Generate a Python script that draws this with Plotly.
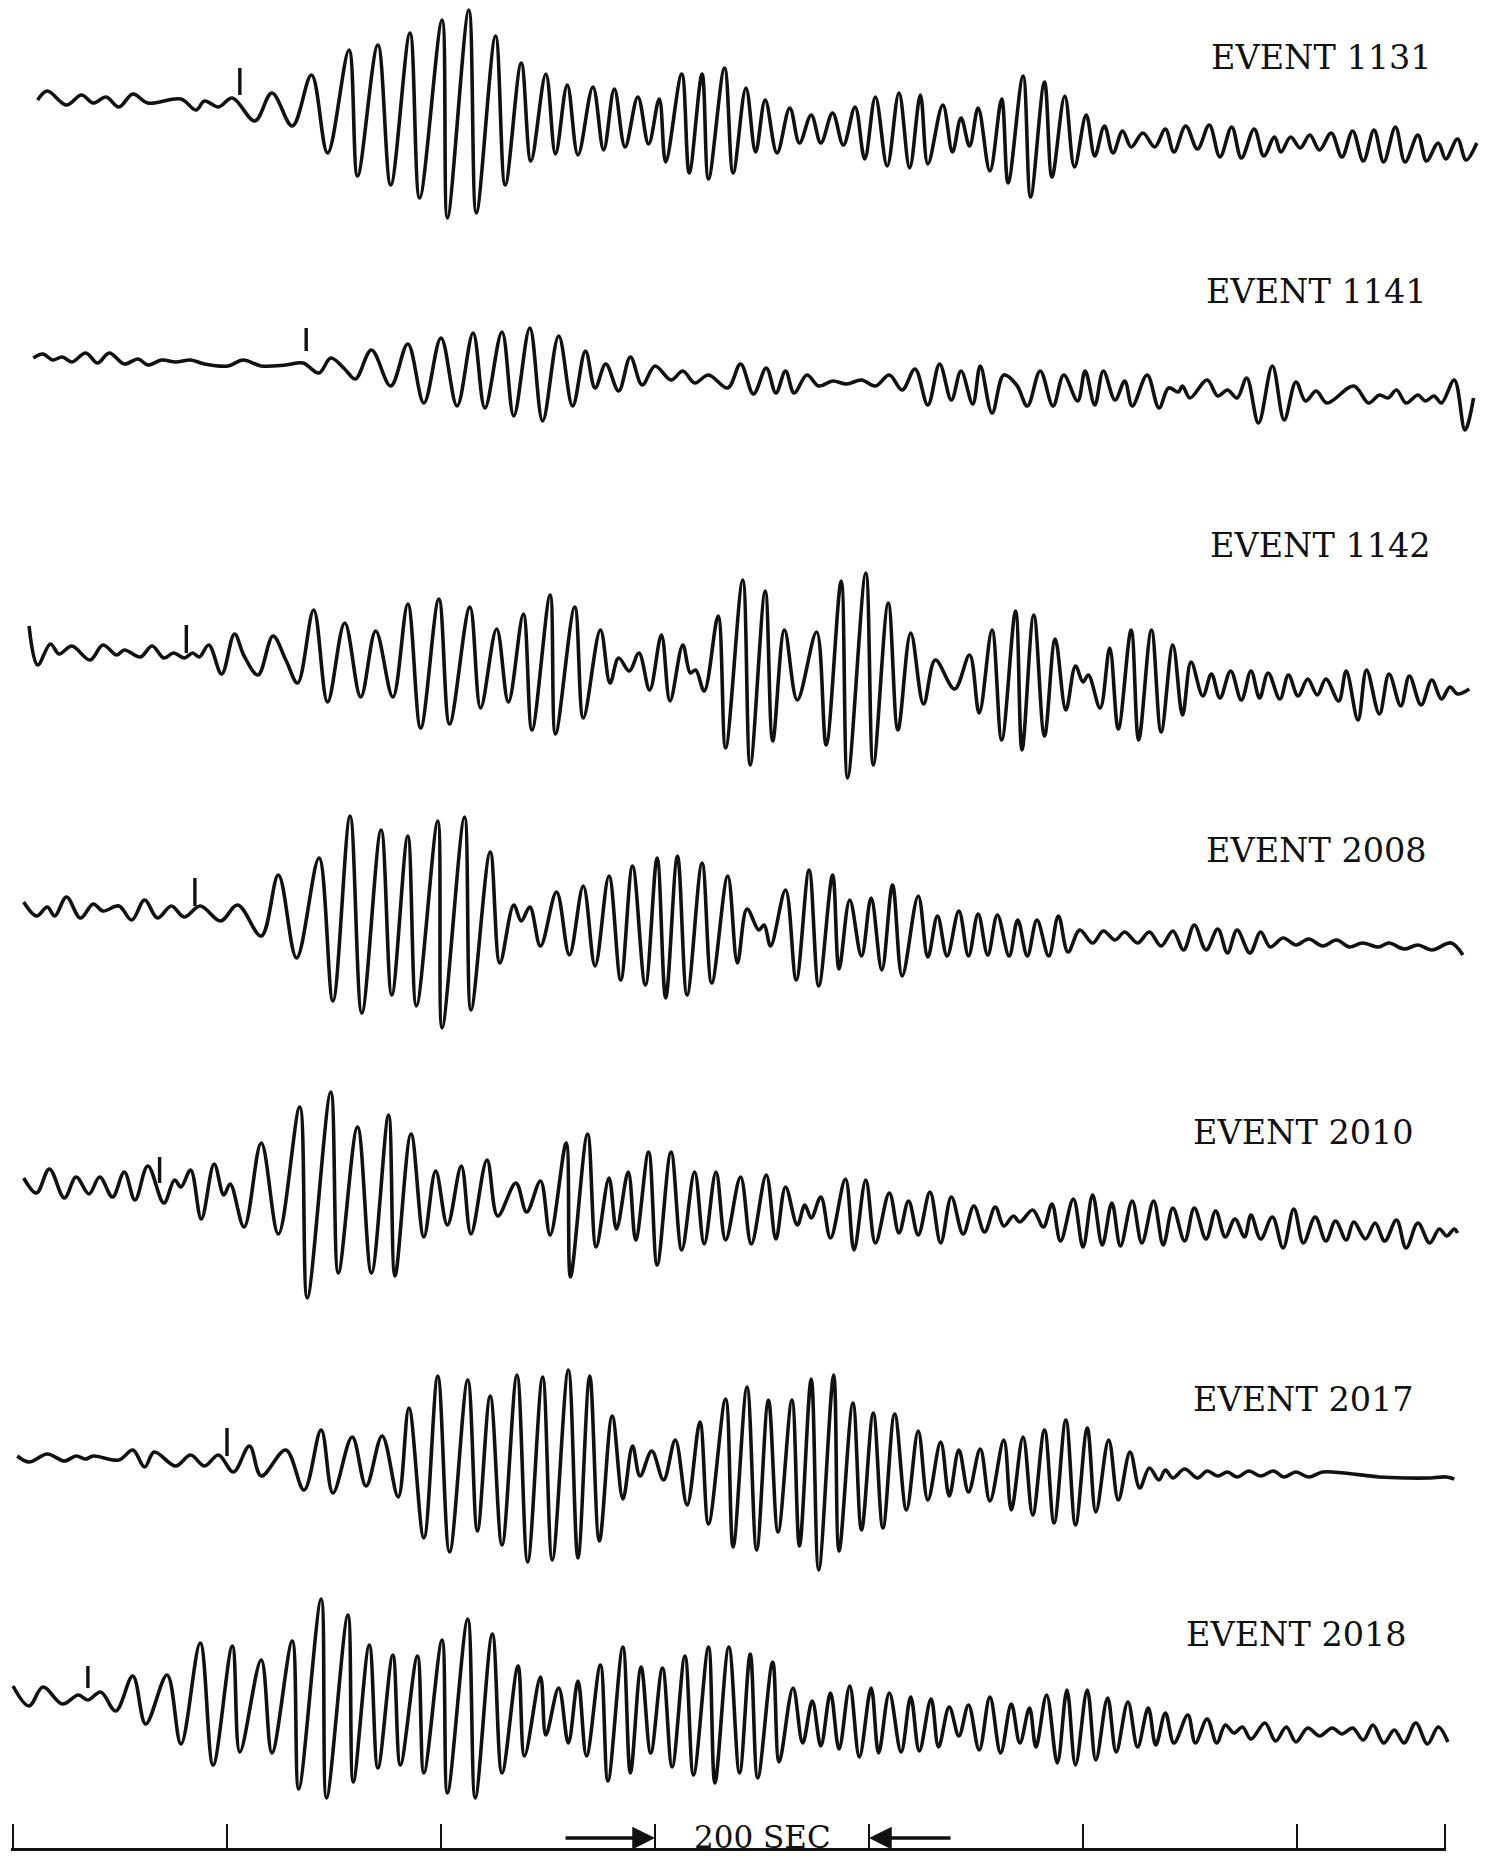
import plotly.graph_objects as go

EVENTS = ["1131", "1141", "1142", "2008", "2010", "2017", "2018"]

# turning points of each trace: (time in s, amplitude)
EV_1131 = [
    (23, 0), (32, 9), (50, -5), (64, 5), (75, -3), (87, 3), (99, -7), (112, 6), (126, -3), (157, 1),
    (171, -10), (179, -1), (192, -7), (205, 2), (226, -21), (242, 7), (261, -26), (279, 25), (294, -53), (314, 50),
    (322, -76), (341, 55), (353, -85), (371, 67), (380, -98), (401, 80), (406, -118), (426, 90), (433, -113), (451, 64),
    (460, -85), (475, 37), (484, -61), (498, 26), (507, -54), (518, 15), (528, -55), (542, 13), (552, -50), (562, 11),
    (572, -47), (584, 3), (594, -44), (604, 1), (610, -62), (625, 26), (632, -73), (644, 26), (650, -79), (665, 32),
    (673, -73), (685, 12), (694, -52), (703, 0), (714, -53), (726, -8), (735, -43), (746, -15), (755, -43), (766, -13),
    (776, -45), (787, -7), (796, -59), (806, 3), (817, -66), (828, 7), (838, -68), (848, 5), (855, -64), (869, -5),
    (878, -52), (886, -18), (894, -46), (902, -8), (913, -71), (924, 1), (930, -83), (944, 24), (951, -97), (964, 18),
    (971, -77), (983, 4), (992, -67), (1003, -15), (1011, -56), (1020, -26), (1028, -53), (1037, -31), (1045, -47),
    (1056, -33), (1067, -47), (1077, -29), (1085, -52), (1096, -26), (1107, -49), (1118, -25), (1128, -57),
    (1139, -27), (1148, -58), (1160, -29), (1169, -56), (1179, -37), (1185, -52), (1194, -37), (1203, -48),
    (1212, -35), (1221, -50), (1232, -33), (1242, -57), (1252, -31), (1262, -61), (1272, -30), (1281, -62),
    (1292, -27), (1301, -62), (1313, -35), (1321, -61), (1332, -43), (1339, -59), (1350, -39), (1358, -60),
    (1368, -43),
]

EV_1141 = [
    (19, -1), (28, 3), (37, -3), (46, 0), (55, -5), (68, 4), (79, -6), (90, 4), (104, -7), (117, -2),
    (126, -8), (139, -3), (152, -5), (166, -3), (179, -7), (201, -9), (215, -3), (232, -9), (255, -8), (271, -6),
    (286, -16), (297, -1), (310, -12), (320, -22), (335, 7), (353, -29), (369, 13), (384, -46), (400, 19), (415, -49),
    (430, 24), (441, -51), (457, 25), (468, -59), (483, 29), (495, -64), (510, 21), (523, -49), (535, 6), (544, -31),
    (554, -7), (566, -34), (577, 0), (588, -28), (600, -9), (615, -23), (626, -14), (637, -26), (650, -18), (668, -31),
    (680, -7), (692, -37), (704, -11), (713, -36), (722, -14), (730, -36), (742, -18), (753, -29), (766, -24),
    (779, -27), (793, -23), (806, -29), (819, -18), (831, -33), (843, -12), (855, -48), (866, -7), (877, -43),
    (886, -14), (897, -47), (904, -9), (915, -56), (926, -18), (938, -28), (948, -49), (960, -14), (972, -49),
    (982, -18), (995, -44), (1002, -14), (1011, -48), (1019, -14), (1030, -43), (1039, -24), (1046, -49),
    (1060, -18), (1071, -51), (1080, -31), (1089, -35), (1093, -29), (1100, -41), (1116, -23), (1126, -39),
    (1135, -33), (1144, -41), (1153, -21), (1164, -66), (1177, -9), (1188, -63), (1199, -25), (1208, -44),
    (1218, -34), (1228, -46), (1253, -29), (1267, -46), (1277, -38), (1285, -41), (1293, -33), (1302, -46),
    (1313, -38), (1320, -44), (1328, -39), (1335, -46), (1347, -23), (1357, -73), (1365, -41),
]

EV_1142 = [
    (15, 27), (23, -12), (35, 9), (43, -1), (55, 7), (72, -7), (84, 8), (97, -2), (104, 3), (119, -4),
    (130, 7), (141, -5), (150, 0), (160, -5), (168, 0), (174, -4), (183, 8), (195, -21), (207, 19), (216, -3),
    (229, -22), (243, 17), (255, -7), (266, -30), (281, 43), (294, -49), (310, 30), (325, -44), (339, 22), (355, -44),
    (369, 49), (381, -75), (398, 54), (408, -71), (427, 46), (437, -55), (452, 24), (463, -49), (477, 39), (485, -77),
    (502, 58), (507, -81), (525, 46), (533, -65), (549, 23), (558, -30), (566, -5), (576, -18), (585, 0), (595, -37),
    (606, 18), (614, -48), (626, 8), (633, -20), (638, -17), (646, -38), (659, 37), (666, -95), (682, 73),
    (689, -112), (703, 62), (710, -88), (721, 23), (733, -47), (751, 21), (760, -92), (774, 72), (780, -125),
    (797, 80), (804, -112), (818, 50), (827, -77), (839, 20), (851, -51), (862, -7), (880, -36), (894, -2),
    (903, -60), (915, 23), (924, -87), (937, 42), (943, -97), (954, 38), (964, -83), (974, 14), (984, -57),
    (993, -13), (1000, -29), (1005, -22), (1016, -55), (1025, 5), (1033, -76), (1045, 23), (1052, -87),
    (1064, 23), (1073, -79), (1084, 8), (1093, -62), (1101, -9), (1112, -43), (1120, -21), (1128, -45),
    (1138, -18), (1148, -47), (1157, -18), (1165, -45), (1173, -20), (1184, -46), (1192, -22), (1201, -43),
    (1210, -26), (1219, -42), (1227, -26), (1239, -48), (1246, -18), (1257, -67), (1265, -17), (1277, -61),
    (1286, -21), (1297, -53), (1305, -23), (1316, -52), (1326, -27), (1335, -46), (1343, -34), (1350, -41),
    (1361, -36),
]

EV_2008 = [
    (10, 6), (22, -8), (32, 1), (39, -8), (50, 11), (63, -10), (75, 4), (84, -3), (99, 2), (111, -12),
    (123, 8), (135, -10), (148, 2), (160, -9), (175, 2), (194, -13), (210, 3), (232, -28), (248, 33), (265, -50),
    (286, 50), (299, -93), (315, 92), (326, -105), (344, 78), (354, -87), (369, 72), (377, -98), (397, 87),
    (401, -120), (422, 91), (428, -102), (446, 56), (455, -55), (468, 3), (475, -13), (483, 1), (493, -38),
    (508, 16), (520, -47), (533, 22), (544, -58), (557, 32), (568, -72), (579, 42), (591, -77), (602, 50),
    (610, -90), (621, 52), (630, -87), (644, 45), (653, -75), (668, 32), (677, -55), (686, -1), (697, -22),
    (702, -17), (708, -38), (722, 18), (732, -72), (744, 38), (753, -78), (766, 33), (772, -61), (782, 8),
    (793, -48), (802, 10), (812, -62), (822, 23), (831, -68), (846, 12), (855, -49), (864, -8), (873, -48),
    (884, -3), (893, -48), (902, -6), (911, -47), (920, -7), (931, -48), (939, -12), (948, -48), (957, -12),
    (968, -48), (977, -8), (986, -44), (997, -22), (1009, -35), (1019, -23), (1030, -32), (1039, -24),
    (1051, -35), (1062, -24), (1073, -38), (1084, -23), (1094, -42), (1104, -17), (1115, -42), (1126, -21),
    (1135, -45), (1144, -22), (1156, -45), (1166, -24), (1175, -39), (1187, -30), (1199, -37), (1211, -31),
    (1224, -38), (1237, -32), (1249, -39), (1261, -35), (1276, -39), (1286, -35), (1300, -41), (1313, -37),
    (1326, -42), (1344, -35), (1355, -47),
]

EV_2010 = [
    (10, 2), (22, -13), (34, 11), (48, -18), (59, 3), (71, -14), (81, 3), (93, -17), (104, 8), (114, -20),
    (126, 14), (141, -23), (151, 0), (157, -7), (166, 10), (176, -39), (188, 16), (197, -15), (203, -4), (216, -47),
    (232, 37), (248, -54), (268, 73), (275, -118), (297, 88), (304, -93), (322, 53), (335, -93), (351, 65),
    (357, -96), (372, 46), (384, -57), (395, 9), (406, -45), (419, 14), (428, -54), (443, 20), (453, -36),
    (470, -3), (480, -32), (493, -1), (502, -55), (517, 37), (521, -97), (537, 46), (545, -67), (557, 2),
    (564, -49), (575, 8), (582, -60), (594, 28), (602, -85), (615, 28), (625, -70), (637, 8), (646, -64),
    (657, 8), (666, -60), (680, 3), (690, -64), (704, 5), (713, -59), (722, -7), (733, -45), (740, -25),
    (746, -38), (755, -17), (764, -58), (778, 1), (786, -70), (797, 0), (806, -63), (819, -13), (828, -53),
    (837, -21), (846, -55), (857, -12), (867, -63), (877, -17), (888, -54), (898, -26), (908, -52), (918, -27),
    (926, -46), (935, -36), (941, -42), (953, -30), (963, -47), (971, -24), (979, -61), (991, -19), (1000, -67),
    (1009, -15), (1018, -65), (1027, -23), (1035, -66), (1046, -21), (1055, -63), (1066, -21), (1075, -65),
    (1084, -28), (1095, -61), (1104, -28), (1115, -59), (1124, -31), (1133, -57), (1142, -39), (1151, -57),
    (1157, -35), (1166, -59), (1177, -37), (1187, -68), (1197, -29), (1206, -63), (1217, -37), (1227, -61),
    (1236, -41), (1246, -60), (1253, -42), (1264, -59), (1273, -43), (1282, -61), (1293, -40), (1302, -68),
    (1313, -43), (1324, -63), (1333, -49), (1340, -56), (1347, -49), (1350, -53),
]

EV_2017 = [
    (4, 2), (15, -4), (32, 4), (48, -3), (59, 2), (68, -1), (75, 2), (99, -2), (112, 8), (123, -9),
    (132, 6), (152, -8), (166, 3), (179, -8), (192, 3), (206, -14), (221, 12), (232, -18), (255, 8), (272, -32),
    (288, 28), (299, -35), (317, 21), (330, -28), (345, 22), (360, -39), (370, 50), (384, -80), (397, 82),
    (408, -94), (425, 78), (434, -73), (446, 62), (457, -87), (471, 83), (481, -104), (495, 81), (504, -102),
    (519, 88), (528, -100), (539, 82), (548, -83), (560, 42), (570, -41), (579, 12), (586, -18), (597, 7),
    (608, -22), (619, 18), (630, -47), (642, 36), (650, -66), (666, 59), (673, -89), (686, 71), (695, -92),
    (706, 58), (715, -74), (728, 58), (735, -88), (746, 79), (753, -112), (767, 83), (772, -93), (785, 55),
    (793, -72), (804, 45), (813, -70), (824, 44), (835, -52), (846, 27), (855, -42), (867, 16), (875, -38),
    (884, 8), (893, -34), (904, 9), (913, -43), (926, 18), (933, -52), (944, 21), (953, -57), (964, 28),
    (973, -65), (984, 38), (993, -67), (1004, 30), (1012, -54), (1024, 18), (1033, -42), (1044, 6), (1053, -30),
    (1062, -10), (1071, -22), (1077, -12), (1084, -20), (1095, -11), (1107, -20), (1116, -13), (1126, -18),
    (1135, -14), (1144, -19), (1155, -13), (1166, -18), (1178, -13), (1188, -19), (1199, -14), (1211, -19),
    (1224, -14), (1244, -15), (1277, -19), (1304, -20), (1322, -20), (1340, -19), (1347, -21),
]

EV_2018 = [
    (0, 4), (15, -16), (28, 3), (46, -14), (61, -5), (70, -10), (82, -2), (96, -21), (112, 14), (124, -34),
    (144, 15), (157, -54), (175, 47), (187, -75), (205, 44), (212, -62), (232, 30), (242, -63), (261, 49),
    (267, -99), (288, 91), (293, -108), (313, 75), (318, -92), (333, 45), (341, -78), (355, 35), (362, -75),
    (378, 34), (384, -83), (401, 50), (406, -103), (425, 71), (432, -108), (448, 56), (457, -83), (472, 24),
    (478, -66), (493, 13), (498, -45), (510, 2), (519, -53), (528, 9), (536, -66), (549, 25), (556, -91),
    (570, 43), (577, -83), (587, 23), (596, -63), (607, 22), (616, -77), (628, 34), (636, -85), (650, 43),
    (656, -93), (669, 43), (679, -83), (689, 36), (696, -88), (710, 28), (716, -72), (729, 2), (738, -53),
    (747, -11), (755, -56), (764, -3), (772, -59), (782, 4), (791, -67), (802, 2), (809, -63), (819, -3),
    (830, -62), (839, -7), (847, -61), (858, -9), (865, -57), (875, -17), (884, -46), (893, -15), (903, -60),
    (913, -7), (923, -63), (933, -14), (941, -53), (950, -18), (956, -57), (966, -5), (976, -73), (985, 0),
    (993, -75), (1004, 0), (1012, -70), (1023, -8), (1031, -62), (1042, -12), (1051, -57), (1061, -18),
    (1068, -55), (1077, -23), (1085, -53), (1098, -25), (1105, -53), (1116, -29), (1125, -53), (1133, -35),
    (1141, -43), (1149, -37), (1157, -49), (1170, -33), (1180, -51), (1190, -37), (1199, -52), (1210, -38),
    (1221, -46), (1233, -38), (1242, -44), (1252, -38), (1262, -50), (1271, -35), (1281, -53), (1291, -40),
    (1300, -53), (1311, -33), (1322, -54), (1332, -37), (1341, -52),
]

TRACES = [EV_1131, EV_1141, EV_1142, EV_2008, EV_2010, EV_2017, EV_2018]

# arrival marks on each trace
ONSET_T = [212, 274, 162, 170, 137, 200, 70]
ONSET_LOW = [5, 6, 0, 2, -3, 2, 2]
ONSET_HIGH = [32, 29, 28, 30, 23, 30, 24]

SCALE_TICKS = [0, 200, 400, 600, 800, 1000, 1200]
SCALE_END = 1338
SCALE_SPAN = (600, 800)
SCALE_LABEL = "200 SEC"

# page geometry (pixels)
WIDTH, HEIGHT = 1492, 1863
PX_PER_SEC = 214 / 200
T0_PX = 13
PAD_SEC = 1.5
BASELINES = [100, 357, 653, 908, 1180, 1458, 1690]
LABEL_POS = [(1209, 57), (1204, 291), (1208, 546), (1204, 850), (1191, 1132), (1191, 1399), (1184, 1634)]
BAR_Y = 1849
ARROW_Y = 1838
FONT = "DejaVu Serif"
INK = "#111111"


def _trace(points, base):
    return go.Scatter(
        x=[t for t, _ in points],
        y=[base - a for _, a in points],
        mode="lines",
        line=dict(color=INK, width=3.6, shape="spline", smoothing=1.0),
        hoverinfo="skip",
        showlegend=False,
    )


def _onsets():
    xs, ys = [], []
    for t, lo, hi, base in zip(ONSET_T, ONSET_LOW, ONSET_HIGH, BASELINES):
        xs += [t, t, None]
        ys += [base - lo, base - hi, None]
    return go.Scatter(
        x=xs, y=ys, mode="lines", line=dict(color=INK, width=3.4),
        hoverinfo="skip", showlegend=False,
    )


fig = go.Figure()
for points, base in zip(TRACES, BASELINES):
    fig.add_trace(_trace(points, base))
fig.add_trace(_onsets())

# invisible trace so the time-scale axis is drawn
fig.add_trace(
    go.Scatter(
        x=[0, SCALE_END], y=[BAR_Y, BAR_Y], xaxis="x2", yaxis="y",
        mode="lines", line=dict(width=0), opacity=0,
        hoverinfo="skip", showlegend=False,
    )
)

for name, (px, py) in zip(EVENTS, LABEL_POS):
    fig.add_annotation(
        text=f"EVENT {name}", xref="paper", yref="paper",
        x=px / WIDTH, y=1 - py / HEIGHT, xanchor="left", yanchor="middle",
        showarrow=False, font=dict(family=FONT, size=33.5, color=INK),
    )

mid = (SCALE_SPAN[0] + SCALE_SPAN[1]) / 2
fig.add_annotation(
    text=SCALE_LABEL, xref="x2", yref="paper", x=mid, y=1 - 1837 / HEIGHT,
    xanchor="center", yanchor="middle", showarrow=False,
    font=dict(family=FONT, size=31, color=INK),
)
for tip, offset in ((SCALE_SPAN[0], -91), (SCALE_SPAN[1], 83)):
    fig.add_annotation(
        text="", xref="x2", yref="paper", x=tip, y=1 - ARROW_Y / HEIGHT,
        ax=offset, ay=0, showarrow=True, arrowhead=2, arrowsize=1.3,
        arrowwidth=3.5, arrowcolor=INK, standoff=0,
    )

fig.update_layout(
    width=WIDTH,
    height=HEIGHT,
    margin=dict(l=0, r=0, t=0, b=0),
    paper_bgcolor="white",
    plot_bgcolor="rgba(0,0,0,0)",
    font=dict(family=FONT, color=INK),
    xaxis=dict(
        range=[-T0_PX / PX_PER_SEC, (WIDTH - T0_PX) / PX_PER_SEC],
        visible=False, fixedrange=True,
    ),
    yaxis=dict(range=[HEIGHT, 0], visible=False, fixedrange=True),
    xaxis2=dict(
        domain=[
            (T0_PX - PAD_SEC * PX_PER_SEC) / WIDTH,
            (T0_PX + (SCALE_END + PAD_SEC) * PX_PER_SEC) / WIDTH,
        ],
        range=[-PAD_SEC, SCALE_END + PAD_SEC],
        anchor="free",
        position=1 - BAR_Y / HEIGHT,
        showline=True, linecolor=INK, linewidth=2.8,
        ticks="inside", tickvals=SCALE_TICKS + [SCALE_END],
        ticklen=24, tickwidth=2.4, tickcolor=INK,
        showticklabels=False, showgrid=False, zeroline=False, fixedrange=True,
    ),
)

fig.write_html(
    "out.html",
    config={"displayModeBar": False},
    post_script="document.body.style.margin='0';document.body.style.overflow='hidden';",
)
